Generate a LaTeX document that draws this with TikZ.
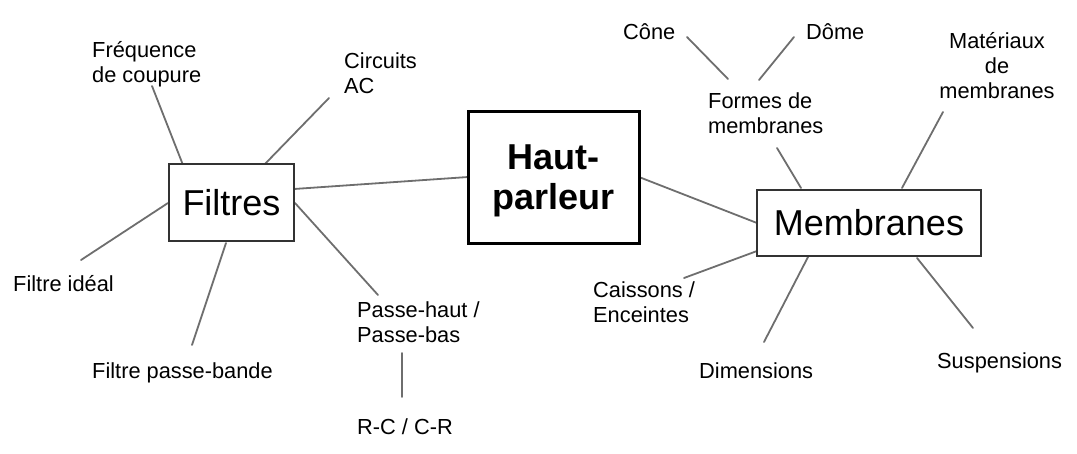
\documentclass[tikz,border=0pt]{standalone}
\usepackage{fontspec}
\setmainfont{Liberation Sans}
\usepackage{tkz-euclide}
\definecolor{LinkClr}{rgb}{0.43,0.43,0.43}
\definecolor{BoxClr}{rgb}{0.2,0.2,0.2}

\tikzset{
  topic/.style={draw=BoxClr,line width=1.3pt,fill=white,inner sep=0pt,
    font=\fontsize{36}{40}\selectfont},
  hub/.style={draw=black,line width=3pt,fill=white,inner sep=0pt,align=center,
    text depth=0pt,font=\fontsize{36}{40}\selectfont\bfseries},
  leaf/.style={inner sep=0pt,anchor=base west,align=left,
    font=\fontsize{21.8}{25}\selectfont}
}

\begin{document}
\begin{tikzpicture}[x=1pt,y=-1pt]
\useasboundingbox (0,0) rectangle (1077,453);

\tkzDefPoints{294/189/F1,468/177/H1,639/177/H2,757/223/M1}
\tkzDefPoints{183/165/A1,152/86/A2,263/166/B1,329/98/B2,168/203/C1,81/260/C2}
\tkzDefPoints{226/243/D1,192/345/D2,295/203/E1,378/295/E2,402/353/G1,402/397/G2}
\tkzDefPoints{687/37/K1,728/79/K2,794/37/L1,759/80/L2,777/148/N1,801/188/N2}
\tkzDefPoints{943/112/P1,902/188/P2,757/251/Q1,684/278/Q2,808/257/R1,764/342/R2}
\tkzDefPoints{917/258/S1,973/328/S2}

\tkzDrawSegments[color=LinkClr,line width=1.8pt](F1,H1 H2,M1 A1,A2 B1,B2 C1,C2 D1,D2 E1,E2 G1,G2)
\tkzDrawSegments[color=LinkClr,line width=1.8pt](K1,K2 L1,L2 N1,N2 P1,P2 Q1,Q2 R1,R2 S1,S2)

\node[hub,minimum width=171pt,minimum height=132pt] (haut) at (553.5,177) {Haut-\\parleur};
\node[topic,minimum width=125pt,minimum height=77pt] (filtres) at (231.5,202.5) {Filtres};
\node[topic,minimum width=224pt,minimum height=66pt] (membranes) at (869,223) {Membranes};

\node[leaf] (frequence) at (92,82) {Fréquence\\de coupure};
\node[leaf] (circuits) at (344,93) {Circuits\\AC};
\node[leaf] (ideal) at (13,291) {Filtre idéal};
\node[leaf] (bande) at (92,378) {Filtre passe-bande};
\node[leaf] (passe) at (357,342) {Passe-haut /\\Passe-bas};
\node[leaf] (rc) at (357,434) {R-C / C-R};

\node[leaf] (cone) at (623,39) {Cône};
\node[leaf] (dome) at (806,39) {Dôme};
\node[leaf,anchor=base,align=center] (materiaux) at (997,98) {Matériaux\\de\\membranes};
\node[leaf] (formes) at (708,133) {Formes de\\membranes};
\node[leaf] (caissons) at (593,322) {Caissons /\\Enceintes};
\node[leaf] (dimensions) at (699,378) {Dimensions};
\node[leaf] (suspensions) at (937,368) {Suspensions};

\end{tikzpicture}
\end{document}
